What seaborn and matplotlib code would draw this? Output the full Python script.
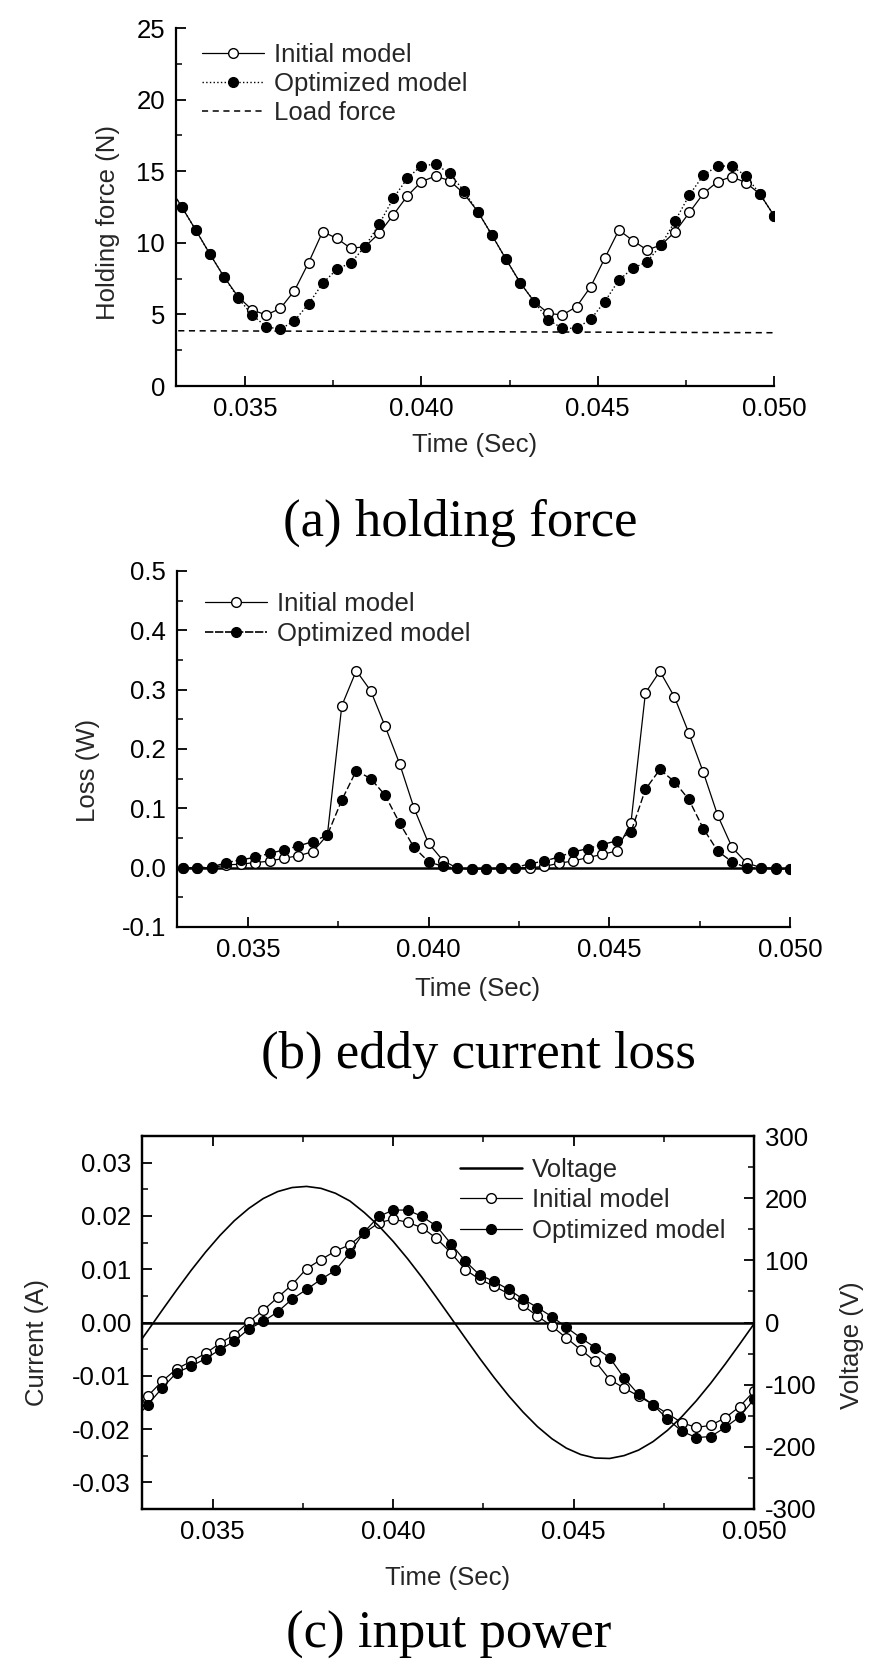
import matplotlib
matplotlib.use("Agg")
import matplotlib.pyplot as plt
import seaborn as sns
import pandas as pd
from matplotlib.ticker import MultipleLocator, FormatStrFormatter
from matplotlib.lines import Line2D

# ---------------- data ----------------
time_s = [0.0328, 0.0332, 0.0336, 0.0340, 0.0344, 0.0348, 0.0352, 0.0356, 0.0360, 0.0364,
          0.0368, 0.0372, 0.0376, 0.0380, 0.0384, 0.0388, 0.0392, 0.0396, 0.0400, 0.0404,
          0.0408, 0.0412, 0.0416, 0.0420, 0.0424, 0.0428, 0.0432, 0.0436, 0.0440, 0.0444,
          0.0448, 0.0452, 0.0456, 0.0460, 0.0464, 0.0468, 0.0472, 0.0476, 0.0480, 0.0484,
          0.0488, 0.0492, 0.0496, 0.0500]

force_initial = [14.1, 12.52, 10.89, 9.22, 7.63, 6.24, 5.31, 4.96, 5.42, 6.66,
                 8.61, 10.78, 10.31, 9.61, 9.73, 10.66, 11.94, 13.27, 14.27, 14.66,
                 14.34, 13.45, 12.18, 10.54, 8.85, 7.22, 5.89, 5.07, 4.96, 5.54,
                 6.93, 8.92, 10.89, 10.15, 9.50, 9.85, 10.78, 12.12, 13.45, 14.27,
                 14.62, 14.20, 13.41, 11.90]
force_optimized = [14.1, 12.52, 10.89, 9.22, 7.63, 6.15, 4.96, 4.14, 3.96, 4.56,
                   5.73, 7.17, 8.15, 8.61, 9.73, 11.29, 13.10, 14.50, 15.39, 15.48,
                   14.85, 13.64, 12.18, 10.54, 8.85, 7.22, 5.89, 4.61, 4.03, 4.03,
                   4.66, 5.89, 7.40, 8.22, 8.68, 9.85, 11.55, 13.34, 14.73, 15.36,
                   15.36, 14.68, 13.41, 11.90]
load_time = [0.0328, 0.0500]
load_force = [3.86, 3.72]

loss_initial = [0.0, 0.0, 0.0, 0.0, 0.0045, 0.006, 0.0085, 0.011, 0.016, 0.020,
                0.027, 0.055, 0.273, 0.332, 0.298, 0.238, 0.175, 0.100, 0.041, 0.012,
                -0.001, -0.002, -0.002, -0.001, 0.0, 0.0, 0.002, 0.0074, 0.0113, 0.0169,
                0.0224, 0.028, 0.0758, 0.2945, 0.331, 0.288, 0.227, 0.161, 0.088, 0.034,
                0.008, 0.0, -0.001, -0.002]
loss_optimized = [0.0, 0.0, 0.0, 0.001, 0.0085, 0.013, 0.0175, 0.024, 0.030, 0.0366,
                  0.044, 0.055, 0.114, 0.1635, 0.150, 0.122, 0.075, 0.034, 0.010, 0.002,
                  -0.001, -0.002, -0.002, -0.001, 0.0, 0.0067, 0.011, 0.018, 0.0265, 0.032,
                  0.039, 0.045, 0.060, 0.132, 0.1655, 0.145, 0.115, 0.066, 0.028, 0.0096,
                  0.0, -0.001, -0.002, -0.002]

current_initial = [-0.0166, -0.0138, -0.0110, -0.0087, -0.0073, -0.0058, -0.0039, -0.0023, 0.0001, 0.0023,
                   0.0047, 0.0071, 0.0101, 0.0118, 0.0134, 0.0146, 0.0168, 0.0187, 0.0194, 0.0188,
                   0.0178, 0.0158, 0.0131, 0.0099, 0.0081, 0.0068, 0.0054, 0.0032, 0.0012, -0.0007,
                   -0.0029, -0.0051, -0.0073, -0.0107, -0.0123, -0.0138, -0.0154, -0.0171, -0.0188, -0.0197,
                   -0.0193, -0.0179, -0.0158, -0.0129]
current_optimized = [-0.0185, -0.0154, -0.0123, -0.0094, -0.0082, -0.0068, -0.0051, -0.0035, -0.0012, 0.0002,
                     0.0020, 0.0044, 0.0062, 0.0081, 0.0098, 0.0131, 0.0170, 0.0199, 0.0211, 0.0211,
                     0.0199, 0.0181, 0.0148, 0.0115, 0.0089, 0.0077, 0.0062, 0.0044, 0.0028, 0.0011,
                     -0.0009, -0.0029, -0.0047, -0.0066, -0.0104, -0.0135, -0.0154, -0.0181, -0.0204, -0.0216,
                     -0.0214, -0.0197, -0.0177, -0.0144]
voltage = [-45.9, -13.2, 19.8, 52.3, 83.7, 113.1, 140.0, 163.8, 183.5, 199.4,
           210.6, 217.1, 218.9, 215.8, 207.9, 195.5, 176.9, 155.5, 130.5, 102.6,
           72.5, 40.4, 7.7, -25.2, -57.7, -88.7, -117.8, -144.1, -167.5, -187.0,
           -202.1, -212.4, -218.0, -218.7, -214.1, -205.3, -191.7, -173.6, -151.5, -126.0,
           -97.7, -67.1, -35.0, -2.2]

x_ticks = [0.035, 0.040, 0.045, 0.050]
titles = ["(a) holding force", "(b) eddy current loss", "(c) input power"]

# ---------------- style ----------------
sns.set_theme(style="ticks")
plt.rcParams["font.family"] = ["Liberation Sans", "DejaVu Sans"]
plt.rcParams["axes.unicode_minus"] = False
FS = 18.5
MS = 7.0

W, H = 869, 1666
fig = plt.figure(figsize=(W / 100, H / 100), dpi=100)


def box(l, t, r, b):
    return [l / W, 1 - b / H, (r - l) / W, (b - t) / H]


def style(ax, full=False):
    for s in ["left", "bottom", "top", "right"]:
        ax.spines[s].set_linewidth(1.6)
        ax.spines[s].set_color("black")
    if not full:
        ax.spines["top"].set_visible(False)
        ax.spines["right"].set_visible(False)
    ax.tick_params(which="both", direction="in", colors="black", labelsize=FS,
                   top=full, right=False)
    ax.tick_params(which="major", length=7, width=1.3, pad=8)
    ax.tick_params(which="minor", length=4, width=1.1)
    ax.set_xlim(0.03304, 0.0500)
    ax.set_xticks(x_ticks)
    ax.xaxis.set_minor_locator(MultipleLocator(0.0025))
    ax.xaxis.set_major_formatter(FormatStrFormatter("%.3f"))
    ax.grid(False)


open_kw = dict(marker="o", markersize=MS, markerfacecolor="white",
               markeredgecolor="black", markeredgewidth=1.0, color="black")
fill_kw = dict(marker="o", markersize=MS, markerfacecolor="black",
               markeredgecolor="black", markeredgewidth=1.0, color="black")

# ---------------- (a) holding force ----------------
axA = fig.add_axes(box(176, 28, 774, 386))
sns.lineplot(x=time_s, y=force_initial, ax=axA, linewidth=0.9, linestyle="-", **open_kw)
sns.lineplot(x=time_s, y=force_optimized, ax=axA, linewidth=1.0, linestyle=":", **fill_kw)
sns.lineplot(x=load_time, y=load_force, ax=axA, color="black", linewidth=1.1,
             linestyle=(0, (4, 3)))
style(axA)
axA.set_ylim(0, 25)
axA.yaxis.set_major_locator(MultipleLocator(5))
axA.yaxis.set_minor_locator(MultipleLocator(2.5))
axA.yaxis.set_major_formatter(FormatStrFormatter("%d"))
axA.set_xlabel("Time (Sec)", fontsize=FS, va="center")
axA.xaxis.set_label_coords(0.5, (386 - 445) / 358)
axA.set_ylabel("Holding force (N)", fontsize=FS, va="center")
axA.yaxis.set_label_coords((108 - 176) / 598, (386 - 223) / 358)
hA = [Line2D([], [], linewidth=0.9, linestyle="-", **open_kw),
      Line2D([], [], linewidth=1.0, linestyle=":", **fill_kw),
      Line2D([], [], color="black", linewidth=1.1, linestyle=(0, (4, 3)))]
axA.legend(hA, ["Initial model", "Optimized model", "Load force"], loc="upper left",
           bbox_to_anchor=(202 / W, 1 - 43 / H), bbox_transform=fig.transFigure,
           frameon=False, fontsize=FS, handlelength=2.4, handletextpad=0.4,
           labelspacing=0.2, borderpad=0, borderaxespad=0, numpoints=1)

# ---------------- (b) eddy current loss ----------------
axB = fig.add_axes(box(177, 571, 790, 927))
axB.axhline(0, color="black", linewidth=1.8, zorder=1)
sns.lineplot(x=time_s, y=loss_initial, ax=axB, linewidth=0.9, linestyle="-", **open_kw)
sns.lineplot(x=time_s, y=loss_optimized, ax=axB, linewidth=1.0, linestyle=(0, (5, 2)), **fill_kw)
style(axB)
axB.set_ylim(-0.1, 0.5)
axB.yaxis.set_major_locator(MultipleLocator(0.1))
axB.yaxis.set_minor_locator(MultipleLocator(0.05))
axB.yaxis.set_major_formatter(FormatStrFormatter("%.1f"))
axB.set_xlabel("Time (Sec)", fontsize=FS, va="center")
axB.xaxis.set_label_coords((478 - 177) / 613, (927 - 989) / 356)
axB.set_ylabel("Loss (W)", fontsize=FS, va="center")
axB.yaxis.set_label_coords((88 - 177) / 613, (927 - 770) / 356)
hB = [Line2D([], [], linewidth=0.9, linestyle="-", **open_kw),
      Line2D([], [], linewidth=1.2, linestyle=(0, (5, 1)), **fill_kw)]
axB.legend(hB, ["Initial model", "Optimized model"], loc="upper left",
           bbox_to_anchor=(205 / W, 1 - 592 / H), bbox_transform=fig.transFigure,
           frameon=False, fontsize=FS, handlelength=2.4, handletextpad=0.4,
           labelspacing=0.22, borderpad=0, borderaxespad=0, numpoints=1)

# ---------------- (c) input power ----------------
axC = fig.add_axes(box(142, 1136, 754, 1509))
axC.axhline(0, color="black", linewidth=1.8, zorder=1)
sns.lineplot(x=time_s, y=current_initial, ax=axC, linewidth=0.9, linestyle="-", **open_kw)
sns.lineplot(x=time_s, y=current_optimized, ax=axC, linewidth=0.9, linestyle="-", **fill_kw)
style(axC, full=True)
axC.set_ylim(-0.035, 0.035)
axC.yaxis.set_major_locator(MultipleLocator(0.01))
axC.yaxis.set_minor_locator(MultipleLocator(0.005))
axC.yaxis.set_major_formatter(FormatStrFormatter("%.2f"))
axC.set_xlabel("Time (Sec)", fontsize=FS, va="center")
axC.xaxis.set_label_coords((448 - 142) / 612, (1509 - 1578) / 373)
axC.set_ylabel("Current (A)", fontsize=FS, va="center")
axC.yaxis.set_label_coords((37 - 142) / 612, (1509 - 1342) / 373)

axV = axC.twinx()
sns.lineplot(x=time_s, y=voltage, ax=axV, color="black", linewidth=1.2)
axV.set_ylim(-300, 300)
axV.yaxis.set_major_locator(MultipleLocator(100))
axV.yaxis.set_minor_locator(MultipleLocator(50))
axV.yaxis.set_major_formatter(FormatStrFormatter("%d"))
axV.tick_params(which="both", direction="in", colors="black", labelsize=FS, right=True)
axV.tick_params(which="major", length=7, width=1.3, pad=8)
axV.tick_params(which="minor", length=4, width=1.1)
for s in axV.spines.values():
    s.set_linewidth(1.6)
    s.set_color("black")
axV.grid(False)
axV.set_ylabel("Voltage (V)", fontsize=FS, va="center", rotation=90)
axV.yaxis.set_label_coords((852 - 142) / 612, (1509 - 1345) / 373)
hC = [Line2D([], [], color="black", linewidth=1.8),
      Line2D([], [], linewidth=0.9, linestyle="-", **open_kw),
      Line2D([], [], linewidth=0.9, linestyle="-", **fill_kw)]
axV.legend(hC, ["Voltage", "Initial model", "Optimized model"], loc="upper left",
           bbox_to_anchor=(460 / W, 1 - 1158 / H), bbox_transform=fig.transFigure,
           frameon=False, fontsize=FS, handlelength=2.4, handletextpad=0.4,
           labelspacing=0.25, borderpad=0, borderaxespad=0, numpoints=1)

# ---------------- panel captions ----------------
for txt, (cx, by) in zip(titles, [(460, 536), (478, 1068), (449, 1648)]):
    fig.text(cx / W, 1 - by / H, txt, family=["Liberation Serif", "DejaVu Serif"],
             fontsize=38, ha="center", va="baseline", color="black")

fig.savefig("out.png", dpi=100, facecolor="white")
